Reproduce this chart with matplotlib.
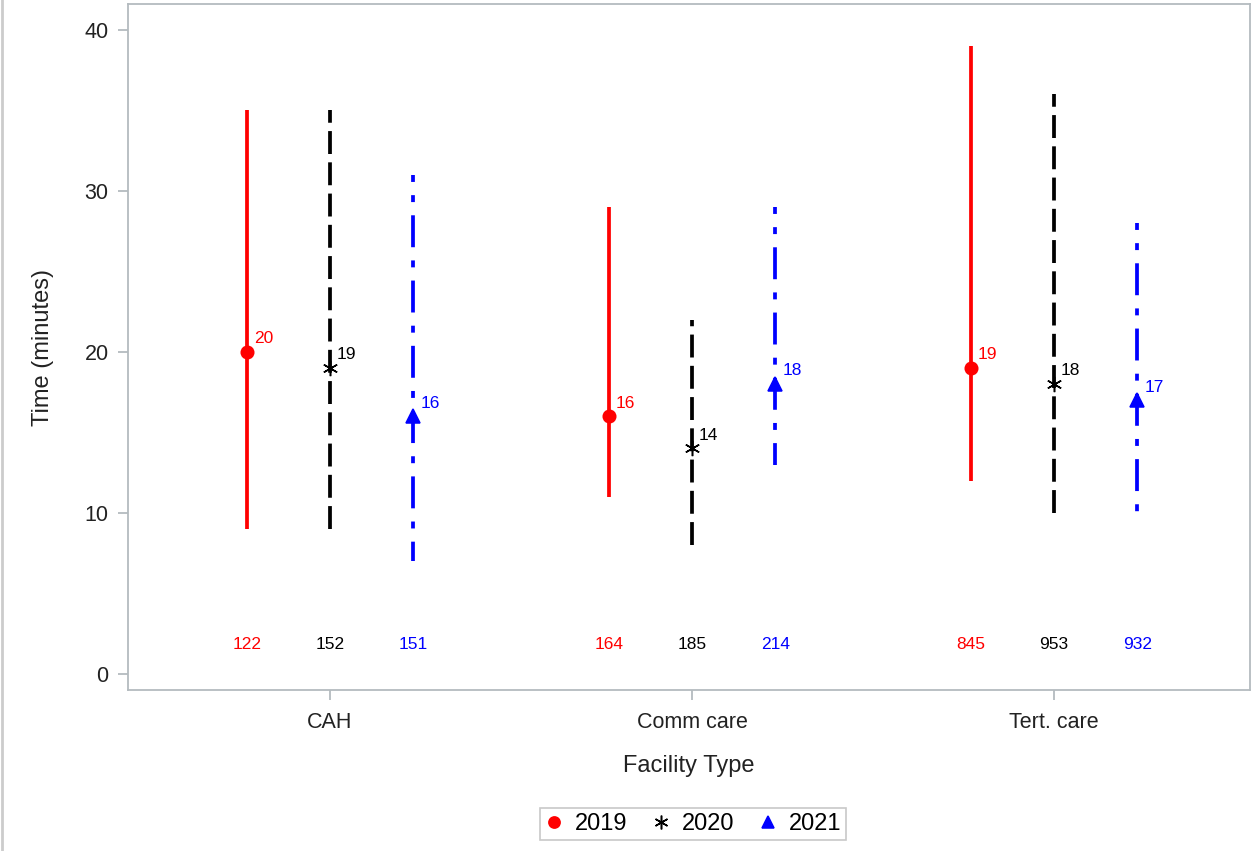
import matplotlib
matplotlib.use("Agg")
import matplotlib.pyplot as plt
from matplotlib.lines import Line2D
import numpy as np

plt.rcParams['font.family'] = ['Liberation Sans', 'DejaVu Sans']
plt.rcParams['lines.scale_dashes'] = False

categories = ["CAH", "Comm care", "Tert. care"]
years = ["2019", "2020", "2021"]
means = {"2019": [20, 16, 19], "2020": [19, 14, 18], "2021": [16, 18, 17]}
lows = {"2019": [9, 11, 12], "2020": [9, 8, 10], "2021": [7, 13, 10]}
highs = {"2019": [35, 29, 39], "2020": [35, 22, 36], "2021": [31, 29, 28]}
counts = {"2019": [122, 164, 845], "2020": [152, 185, 953], "2021": [151, 214, 932]}

colors = {"2019": "#FF0000", "2020": "#000000", "2021": "#0000FF"}
markers = {"2019": "o", "2020": (6, 2, 0), "2021": "^"}
msizes = {"2019": 9, "2020": 11, "2021": 10}
lstyles = {"2019": "-", "2020": (0, (16.5, 6)), "2021": (18, (23, 9.5, 5, 9.5))}
draw_down = {"2019": False, "2020": False, "2021": True}
offsets = {"2019": -0.23, "2020": 0.0, "2021": 0.23}

fig = plt.figure(figsize=(12.54, 8.51), dpi=100)
ax = fig.add_axes([128/1254, 1 - 690/851, (1250-128)/1254, (690-4)/851])

text_col = "#222222"
x = np.arange(len(categories))
handles = []
for yr in years:
    xs = x + offsets[yr]
    c = colors[yr]
    for xi, lo, hi in zip(xs, lows[yr], highs[yr]):
        ys = [hi, lo] if draw_down[yr] else [lo, hi]
        ax.plot([xi, xi], ys, color=c, lw=2.7, linestyle=lstyles[yr],
                solid_capstyle='butt', dash_capstyle='butt', zorder=2)
    ax.plot(xs, means[yr], linestyle='none', marker=markers[yr], ms=msizes[yr],
            color=c, mec=c, mew=1.1, zorder=3)
    for xi, m in zip(xs, means[yr]):
        ax.annotate(str(m), (xi, m), xytext=(5, 4), textcoords='offset points',
                    ha='left', va='bottom', fontsize=12.5, color=c)
    for xi, n in zip(xs, counts[yr]):
        ax.text(xi, 1.8, str(n), ha='center', va='center', fontsize=12.5, color=c)
    handles.append(Line2D([], [], linestyle='none', marker=markers[yr],
                          ms=msizes[yr] * 0.9, color=c, mec=c, mew=1.1, label=yr))

ax.set_xlim(-0.558, 2.541)
ax.set_ylim(-1.0, 41.6)
ax.set_yticks([0, 10, 20, 30, 40])
ax.set_xticks(x)
ax.set_xticklabels(categories)

spine_col = "#B4BBBF"
for s in ax.spines.values():
    s.set_color(spine_col)
    s.set_linewidth(1.3)
ax.tick_params(axis='both', colors=spine_col, labelcolor=text_col, labelsize=15.5,
               length=7, width=1.3)
ax.tick_params(axis='x', pad=9)
ax.tick_params(axis='y', pad=7)
ax.set_xlabel("Facility Type", fontsize=17, color=text_col, labelpad=16)
ax.set_ylabel("Time (minutes)", fontsize=17, color=text_col, labelpad=22)

leg = fig.legend(handles=handles, loc='center', bbox_to_anchor=(693/1254, 1 - 824/851),
                 ncol=3, frameon=True, fontsize=17, handlelength=0.8,
                 handletextpad=0.5, columnspacing=1.0, borderpad=0.2,
                 fancybox=False)
leg.get_frame().set_edgecolor("#BBBBBB")
leg.get_frame().set_linewidth(1.2)

fig.add_artist(Line2D([2/1254, 2/1254], [0, 1], color="#CCCCCC", lw=2,
                      transform=fig.transFigure))

fig.savefig("out.png", dpi=100)
